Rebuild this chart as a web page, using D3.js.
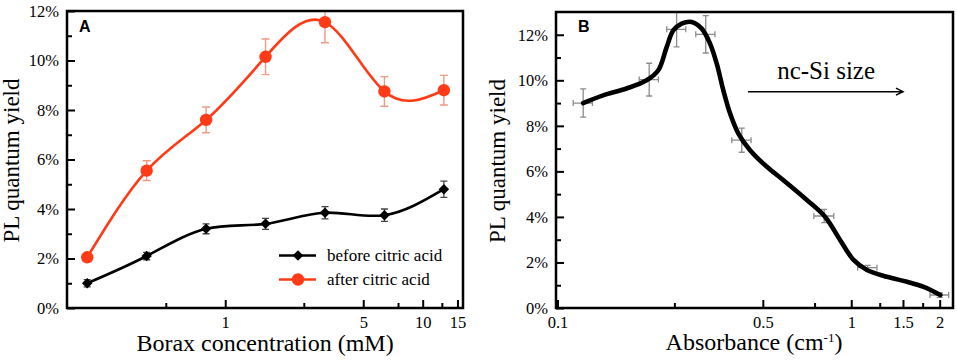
<!DOCTYPE html>
<html>
<head>
<meta charset="utf-8">
<script src="https://cdn.jsdelivr.net/npm/d3@7"></script>
<style>
  body { margin: 0; background: #ffffff; }
  svg text { font-family: "Liberation Serif", Tinos, "Times New Roman", Times, "DejaVu Serif", serif; fill: #000; }
</style>
</head>
<body>
<div id="container"></div>
<script>
/* DATA - PANEL A (borax concentration, mM / PL quantum yield, %) */
const borax = [0.2, 0.4, 0.8, 1.6, 3.2, 6.4, 12.8];
const qyBefore = [1.0, 2.1, 3.2, 3.4, 3.85, 3.75, 4.8];
const errBefore = [0.15, 0.15, 0.2, 0.22, 0.25, 0.25, 0.33];
const qyAfter = [2.05, 5.55, 7.6, 10.15, 11.55, 8.75, 8.8];
const errAfter = [0.1, 0.4, 0.52, 0.72, 0.83, 0.6, 0.6];
const seriesNames = ["before citric acid", "after citric acid"];
const xTicksA = [1, 5, 10, 15];
const xMinorA = [0.5, 2.5, 7.5, 12.5];

/* DATA - PANEL B (absorbance, cm-1 / PL quantum yield, %) */
const absB = [0.1223, 0.2052, 0.2544, 0.3196, 0.4239, 0.809, 1.137, 2.0];
const qyB = [9.0, 10.03, 12.24, 12.02, 7.37, 4.04, 1.77, 0.57];
const yErrB = [0.62, 0.72, 0.77, 0.82, 0.53, 0.29, 0.1, 0.1];
const xErrB = [0.0092, 0.0154, 0.019, 0.024, 0.032, 0.063, 0.086, 0.146];
// smooth guide curve
const fitAbs = [0.1223, 0.143, 0.1718, 0.2011, 0.2203, 0.2353, 0.2478, 0.2647, 0.2863, 0.3097, 0.3306, 0.3484,
  0.3669, 0.3869, 0.4128, 0.4524, 0.5161, 0.5877, 0.7063, 0.8153, 0.917, 1.018, 1.131, 1.323, 1.549, 1.764, 2.011];
const fitQY = [9.0, 9.34, 9.64, 10.0, 10.44, 11.46, 12.19, 12.49, 12.56, 12.27, 11.61, 10.73,
  9.56, 8.54, 7.66, 6.93, 6.2, 5.61, 4.74, 4.0, 2.98, 2.11, 1.67, 1.37, 1.15, 0.93, 0.57];
const xTicksB = [0.1, 0.5, 1, 1.5, 2];
const xMinorB = [0.25, 0.75, 1.25, 1.75];

/* CONSTANTS AND GLOBALS */
const width = 957, height = 360;
const frameA = { left: 67, top: 11, right: 463, bottom: 308 };
const frameB = { left: 556, top: 12, right: 953, bottom: 308 };
const red = "#ff3a17", redErr = "#ef9a84";
const serif = '"Liberation Serif", Tinos, "Times New Roman", Times, "DejaVu Serif", serif';

const svg = d3.select("#container")
  .append("svg")
  .attr("width", width)
  .attr("height", height);

svg.append("rect").attr("width", width).attr("height", height).attr("fill", "#fff");

/* SCALES */
const xA = d3.scaleLog().domain([0.158, 16]).range([frameA.left, frameA.right]);
const yA = d3.scaleLinear().domain([0, 12]).range([frameA.bottom, frameA.top]);
const xB = d3.scaleLog().domain([0.1, 2.22]).range([frameB.left + 1.5, frameB.right]);
const yB = d3.scaleLinear().domain([0, 13]).range([frameB.bottom, frameB.top]);

const pct = d => d + "%";

/* AXES - ticks point inward, frame drawn on top */
function drawAxes(x, y, frame, majorX, minorX, yMax, fmtX) {
  const g = svg.append("g");
  const evens = d3.range(0, yMax + 1, 2), odds = d3.range(1, yMax + 1, 2);

  g.append("g").attr("transform", `translate(0,${frame.bottom})`)
    .call(d3.axisBottom(x).tickValues(majorX).tickSize(-8).tickPadding(8.5).tickFormat(fmtX));
  g.append("g").attr("transform", `translate(0,${frame.bottom})`)
    .call(d3.axisBottom(x).tickValues(minorX).tickSize(-5).tickFormat(""));
  g.append("g").attr("transform", `translate(${frame.left},0)`)
    .call(d3.axisLeft(y).tickValues(evens).tickSize(-8).tickPadding(8).tickFormat(pct));
  g.append("g").attr("transform", `translate(${frame.left},0)`)
    .call(d3.axisLeft(y).tickValues(odds).tickSize(-5).tickFormat(""));

  g.selectAll(".domain").remove();
  g.selectAll("g").attr("font-family", serif);
  g.selectAll(".tick line").attr("stroke", "#000").attr("stroke-width", 2);
  g.selectAll("text").attr("font-size", 16.5);
}

drawAxes(xA, yA, frameA, xTicksA, xMinorA, 12, d => d);
drawAxes(xB, yB, frameB, xTicksB, xMinorB, 12, d => d);

/* CLIP PATHS */
const defs = svg.append("defs");
[["clipA", frameA], ["clipB", frameB]].forEach(([id, f]) => {
  defs.append("clipPath").attr("id", id)
    .append("rect")
    .attr("x", f.left).attr("y", f.top)
    .attr("width", f.right - f.left).attr("height", f.bottom - f.top);
});

/* PANEL A */
const plotA = svg.append("g").attr("clip-path", "url(#clipA)");
const before = borax.map((c, i) => ({ x: c, y: qyBefore[i], e: errBefore[i] }));
const after = borax.map((c, i) => ({ x: c, y: qyAfter[i], e: errAfter[i] }));

const lineA = d3.line()
  .x(d => xA(d.x))
  .y(d => yA(d.y))
  .curve(d3.curveNatural);

function errBars(g, data, color, cap, w) {
  const eb = g.append("g").attr("stroke", color).attr("stroke-width", w).attr("fill", "none");
  eb.selectAll("path")
    .data(data)
    .join("path")
    .attr("d", d => {
      const cx = xA(d.x), y0 = yA(d.y - d.e), y1 = yA(d.y + d.e);
      return `M${cx},${y0}V${y1}M${cx - cap},${y0}H${cx + cap}M${cx - cap},${y1}H${cx + cap}`;
    });
}

errBars(plotA, before, "#444", 3.5, 1.3);
errBars(plotA, after, redErr, 4, 1.4);

plotA.append("path")
  .datum(before)
  .attr("fill", "none")
  .attr("stroke", "#000")
  .attr("stroke-width", 2.6)
  .attr("d", lineA);

plotA.append("path")
  .datum(after)
  .attr("fill", "none")
  .attr("stroke", red)
  .attr("stroke-width", 2.6)
  .attr("d", lineA);

const diamond = d3.symbol().type(d3.symbolDiamond2).size(70);

plotA.selectAll("path.before")
  .data(before)
  .join("path")
  .attr("class", "before")
  .attr("d", diamond)
  .attr("fill", "#000")
  .attr("transform", d => `translate(${xA(d.x)},${yA(d.y)})`);

plotA.selectAll("circle.after")
  .data(after)
  .join("circle")
  .attr("class", "after")
  .attr("r", 6.2)
  .attr("fill", red)
  .attr("cx", d => xA(d.x))
  .attr("cy", d => yA(d.y));

/* legend */
const legend = svg.append("g");
const legRows = [{ y: 255.5, color: "#000" }, { y: 279.5, color: red }];
legRows.forEach((r, i) => {
  legend.append("line")
    .attr("x1", 279).attr("x2", 316).attr("y1", r.y).attr("y2", r.y)
    .attr("stroke", r.color).attr("stroke-width", 2.6);
  if (i === 0) {
    legend.append("path").attr("d", diamond).attr("fill", "#000")
      .attr("transform", `translate(298,${r.y})`);
  } else {
    legend.append("circle").attr("cx", 298).attr("cy", r.y).attr("r", 6.2).attr("fill", red);
  }
  legend.append("text")
    .attr("x", 327).attr("y", r.y + 5.5)
    .attr("font-size", 17)
    .text(seriesNames[i]);
});

/* PANEL B */
const plotB = svg.append("g").attr("clip-path", "url(#clipB)");
const pointsB = absB.map((a, i) => ({ x: a, y: qyB[i], ex: xErrB[i], ey: yErrB[i] }));
const fitB = fitAbs.map((a, i) => ({ x: a, y: fitQY[i] }));

const ebB = plotB.append("g").attr("stroke", "#8c8c8c").attr("stroke-width", 1.3).attr("fill", "none");
ebB.selectAll("path")
  .data(pointsB)
  .join("path")
  .attr("d", d => {
    const cx = xB(d.x), cy = yB(d.y);
    const x0 = xB(d.x - d.ex), x1 = xB(d.x + d.ex);
    const y0 = yB(d.y - d.ey), y1 = yB(d.y + d.ey);
    return `M${cx},${y0}V${y1}M${cx - 3},${y0}H${cx + 3}M${cx - 3},${y1}H${cx + 3}` +
      `M${x0},${cy}H${x1}M${x0},${cy - 3}V${cy + 3}M${x1},${cy - 3}V${cy + 3}`;
  });

plotB.append("path")
  .datum(fitB)
  .attr("fill", "none")
  .attr("stroke", "#000")
  .attr("stroke-width", 4.6)
  .attr("stroke-linecap", "round")
  .attr("d", d3.line().x(d => xB(d.x)).y(d => yB(d.y)).curve(d3.curveCatmullRom.alpha(0.5)));

/* annotation arrow */
const arrowFrom = [0.445, 9.5], arrowTo = [1.5, 9.5];
const ax0 = xB(arrowFrom[0]), ax1 = xB(arrowTo[0]), ay = yB(arrowFrom[1]);
svg.append("path")
  .attr("d", `M${ax0},${ay}H${ax1}M${ax1 - 7},${ay - 3.5}L${ax1},${ay}L${ax1 - 7},${ay + 3.5}`)
  .attr("fill", "none")
  .attr("stroke", "#000")
  .attr("stroke-width", 1.5);

svg.append("text")
  .attr("x", xB(0.821)).attr("y", yB(10.05))
  .attr("text-anchor", "middle")
  .attr("font-size", 25)
  .text("nc-Si size");

/* FRAMES */
[frameA, frameB].forEach(f => {
  svg.append("rect")
    .attr("x", f.left).attr("y", f.top)
    .attr("width", f.right - f.left).attr("height", f.bottom - f.top)
    .attr("fill", "none")
    .attr("stroke", "#000")
    .attr("stroke-width", 2.5);
});

/* PANEL LETTERS */
svg.append("text").attr("x", 79).attr("y", 31.5)
  .style("font-family", '"Liberation Sans", Arial, sans-serif')
  .attr("font-weight", "bold").attr("font-size", 16).text("A");
svg.append("text").attr("x", 578).attr("y", 31.5)
  .style("font-family", '"Liberation Sans", Arial, sans-serif')
  .attr("font-weight", "bold").attr("font-size", 16).text("B");

/* AXIS TITLES */
svg.append("text")
  .attr("x", 265).attr("y", 351)
  .attr("text-anchor", "middle")
  .attr("font-size", 24)
  .text("Borax concentration (mM)");

const titleB = svg.append("text")
  .attr("x", 754).attr("y", 349.5)
  .attr("text-anchor", "middle")
  .attr("font-size", 24);
titleB.append("tspan").text("Absorbance (cm");
titleB.append("tspan").attr("dy", -7.5).attr("font-size", 13).text("-1");
titleB.append("tspan").attr("dy", 7.5).text(")");

[[19, 160.5], [505, 161]].forEach(([x, y]) => {
  svg.append("text")
    .attr("transform", `translate(${x},${y}) rotate(-90)`)
    .attr("text-anchor", "middle")
    .attr("font-size", 23)
    .text("PL quantum yield");
});
</script>
</body>
</html>
